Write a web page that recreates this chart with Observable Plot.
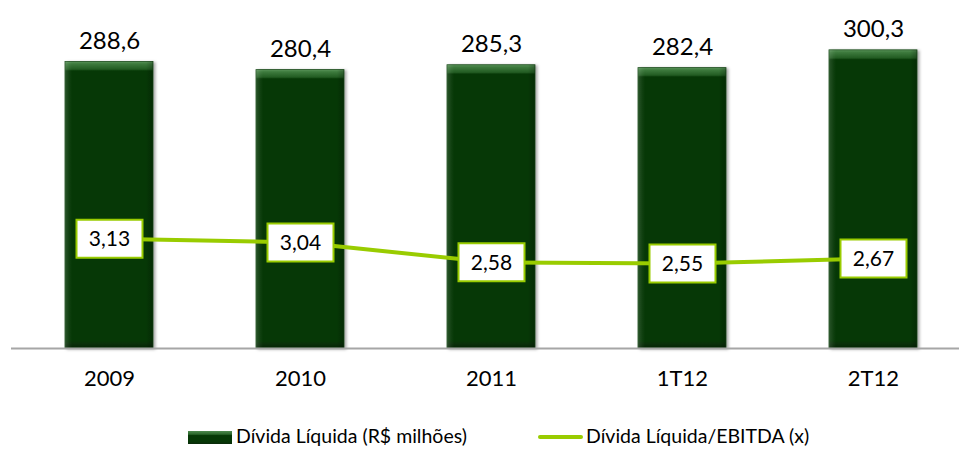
<!DOCTYPE html>
<html>
<head>
<meta charset="utf-8">
<script src="https://cdn.jsdelivr.net/npm/d3@7"></script>
<script src="https://cdn.jsdelivr.net/npm/@observablehq/plot@0.6"></script>
<style>
  html, body { margin: 0; padding: 0; background: #fff; }
  #chart { width: 959px; height: 420px; font-family: Lato, "Open Sans", sans-serif; }
  #legend { position: relative; width: 959px; height: 30px; overflow: visible; font-family: Lato, "Open Sans", sans-serif; font-size: 19.5px; color: #000; }
  #legend .sw1 { position: absolute; left: 188px; top: 11px; width: 44px; height: 13px;
    background: linear-gradient(to bottom, #4f8a4f 0%, #2a662a 25%, #063806 35%, #063806 80%, #0a2a0a 100%); }
  #legend .sw2 { position: absolute; left: 538px; top: 15px; width: 45px; height: 4px; background: #99cc00; border-radius: 2px; }
  #legend .t1 { position: absolute; left: 236px; top: 3px; line-height: 26px; white-space: nowrap; }
  #legend .t2 { position: absolute; left: 586px; top: 3px; line-height: 26px; white-space: nowrap; }
</style>
</head>
<body>
<div id="chart"></div>
<div id="legend">
  <div class="sw1"></div><div class="t1">Dívida Líquida (R$ milhões)</div>
  <div class="sw2"></div><div class="t2">Dívida Líquida/EBITDA (x)</div>
</div>
<script>
const categories = ["2009", "2010", "2011", "1T12", "2T12"];
const netDebt = [288.6, 280.4, 285.3, 282.4, 300.3];
const debtEbitda = [3.13, 3.04, 2.58, 2.55, 2.67];
const debtDomain = [0, 350];
const ratioDomain = [0.578, 8.65];

const ratioToDebt = d3.scaleLinear().domain(ratioDomain).range(debtDomain);
const fmt = (v, d) => v.toFixed(d).replace(".", ",");

const data = categories.map((c, i) => ({
  cat: c,
  debt: netDebt[i],
  ratio: debtEbitda[i],
  ratioY: ratioToDebt(debtEbitda[i])
}));

const boxSymbol = { draw(ctx) { ctx.rect(-33, -19, 66, 38); } };

const plot = Plot.plot({
  width: 959,
  height: 420,
  marginLeft: 11,
  marginRight: 0,
  marginTop: 0,
  marginBottom: 72,
  style: { fontFamily: "Lato, 'Open Sans', sans-serif", background: "#fff", overflow: "visible" },
  x: { type: "band", domain: categories, range: [11, 970], paddingInner: 0.541, paddingOuter: 0.27 },
  y: { domain: debtDomain, range: [348, 0.5], axis: null },
  marks: [
    Plot.barY(data, { x: "cat", y: "debt", fill: "url(#barGradV)", stroke: "#1b4d1b", strokeWidth: 0.8 }),
    Plot.barY(data, { x: "cat", y: "debt", fill: "url(#barGradH)" }),
    Plot.ruleY([0], { stroke: "#a6a6a6", strokeWidth: 2 }),
    Plot.text(data, { x: "cat", y: "debt", text: d => fmt(d.debt, 1), dy: -21, fontSize: 24, fill: "#000" }),
    Plot.axisX({ tickSize: 0, tickPadding: 22, fontSize: 22, color: "#000", label: null }),
    Plot.line(data, { x: "cat", y: "ratioY", stroke: "#99cc00", strokeWidth: 4 }),
    Plot.dot(data, { x: "cat", y: "ratioY", symbol: boxSymbol, fill: "#fff", stroke: "#99cc00", strokeWidth: 2, r: 10 }),
    Plot.text(data, { x: "cat", y: "ratioY", text: d => fmt(d.ratio, 2), fontSize: 21, fill: "#000", dy: 1 })
  ]
});

const svg = d3.select(plot);
const defs = svg.insert("defs", ":first-child");
defs.html(`
  <linearGradient id="barGradV" x1="0" y1="0" x2="0" y2="1">
    <stop offset="0" stop-color="#5a945a"/>
    <stop offset="0.008" stop-color="#3e7b3e"/>
    <stop offset="0.027" stop-color="#225c22"/>
    <stop offset="0.033" stop-color="#063806"/>
    <stop offset="0.975" stop-color="#063806"/>
    <stop offset="0.985" stop-color="#0a300a"/>
    <stop offset="1" stop-color="#042404"/>
  </linearGradient>
  <linearGradient id="barGradH" x1="0" y1="0" x2="1" y2="0">
    <stop offset="0" stop-color="#ffffff" stop-opacity="0.14"/>
    <stop offset="0.05" stop-color="#ffffff" stop-opacity="0.04"/>
    <stop offset="0.08" stop-color="#ffffff" stop-opacity="0"/>
    <stop offset="0.92" stop-color="#000000" stop-opacity="0"/>
    <stop offset="0.96" stop-color="#000000" stop-opacity="0.12"/>
    <stop offset="1" stop-color="#000000" stop-opacity="0.22"/>
  </linearGradient>
`);
svg.select("g[aria-label='bar']").style("filter", "drop-shadow(2px 1px 1.5px rgba(0,0,0,0.35))");

document.getElementById("chart").appendChild(plot);
</script>
</body>
</html>
